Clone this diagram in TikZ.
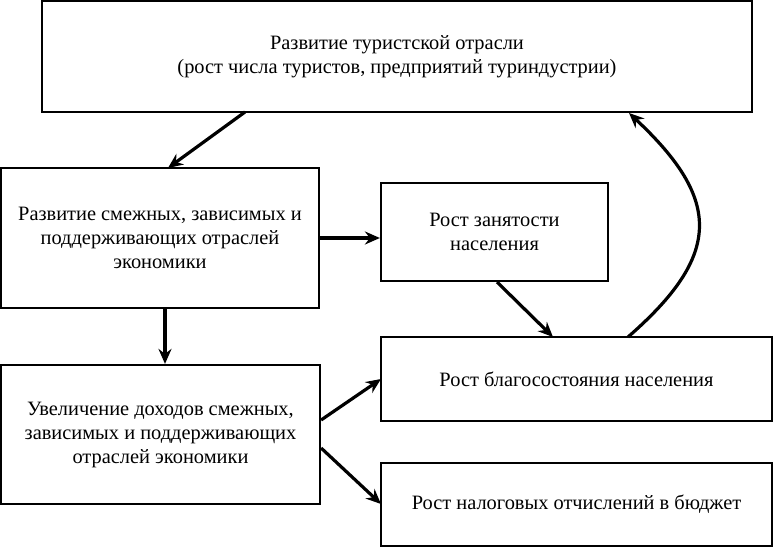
\documentclass[tikz,border=0pt]{standalone}
\usepackage{fontspec}
\setmainfont{Liberation Serif}
\usetikzlibrary{arrows.meta}
\begin{document}
\begin{tikzpicture}[x=1pt,y=-1pt,
  box/.style={draw,line width=2.2pt,rectangle,inner sep=0pt,align=center,
    font=\fontsize{20.4}{24}\selectfont},
  arr/.style={line width=3.2pt,-{Stealth[length=15pt,width=13pt,inset=5pt]}}]
\useasboundingbox (0,0) rectangle (774,548);
\node[box,minimum width=710pt,minimum height=111pt] (top) at (397,56.5)
  {Развитие туристской отрасли\\(рост числа туристов, предприятий туриндустрии)};
\node[box,minimum width=318pt,minimum height=140pt] (smez) at (160,238)
  {Развитие смежных, зависимых и\\поддерживающих отраслей\\экономики};
\node[box,minimum width=227pt,minimum height=98pt] (zan) at (494.5,232)
  {Рост занятости\\населения};
\node[box,minimum width=391pt,minimum height=84pt] (blag) at (576.5,379)
  {Рост благосостояния населения};
\node[box,minimum width=319pt,minimum height=139pt] (dohod) at (160.5,434.5)
  {Увеличение доходов смежных,\\зависимых и поддерживающих\\отраслей экономики};
\node[box,minimum width=391pt,minimum height=83pt] (nalog) at (576.5,504.5)
  {Рост налоговых отчислений в бюджет};
\coordinate (a1s) at (245,112);
\draw[arr] (a1s) -- (168,168);
\draw[arr] (smez.east |- 0,238) -- (zan.west |- 0,238);
\draw[arr] (165,308) -- (dohod.north -| 165,0);
\draw[arr] (497,282) -- (553,337);
\draw[arr] (dohod.east |- 0,420) -- (381,379);
\draw[arr] (dohod.east |- 0,448) -- (381,504);
\draw[arr] (628,337) .. controls (722,255) and (722,200) .. (629,113);
\end{tikzpicture}
\end{document}
